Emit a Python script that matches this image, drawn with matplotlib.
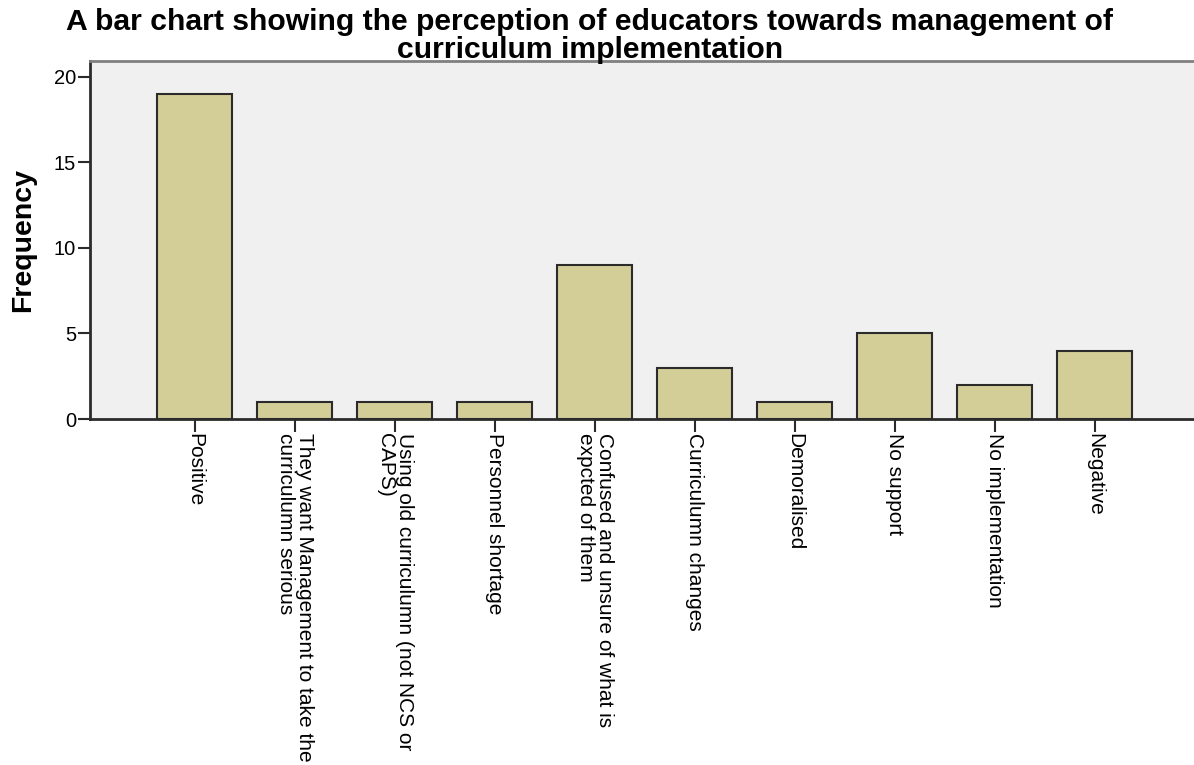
import matplotlib.pyplot as plt

categories = [
    "Positive",
    "They want Management to take the\ncurriculumn serious",
    "Using old curriculumn (not NCS or\nCAPS)",
    "Personnel shortage",
    "Confused and unsure of what is\nexpcted of them",
    "Curriculumn changes",
    "Demoralised",
    "No support",
    "No implementation",
    "Negative",
]
frequency = [19, 1, 1, 1, 9, 3, 1, 5, 2, 4]
y_ticks = [0, 5, 10, 15, 20]

plt.rcParams['font.family'] = ['Liberation Sans', 'DejaVu Sans']

fig = plt.figure(figsize=(11.94, 7.65), dpi=100)
ax = fig.add_axes([90 / 1194, 1 - 419 / 765, 1 - 90 / 1194, (419 - 61) / 765])
ax.set_facecolor("#f0f0f0")

x = list(range(len(categories)))
ax.bar(x, frequency, width=0.75, color="#d3ce97", edgecolor="#2b2b2b", linewidth=1.5, zorder=2)

ax.set_xlim(-1.05, 9.99)
ax.set_ylim(0, 20.93)
ax.set_yticks(y_ticks)
ax.set_xticks(x)
ax.set_xticklabels(categories, rotation=270, ha="center", va="top",
                   multialignment="left", fontsize=15, linespacing=1.0)
ax.tick_params(axis="both", direction="out", length=9, width=1.5, color="#2b2b2b",
               labelsize=15, pad=1)
ax.tick_params(axis="y", labelsize=14.5)

for side in ["left", "bottom"]:
    ax.spines[side].set_color("#2b2b2b")
    ax.spines[side].set_linewidth(2)
ax.spines["top"].set_color("#808080")
ax.spines["top"].set_linewidth(2)
ax.spines["right"].set_visible(False)

ax.set_ylabel("Frequency", fontsize=20.5, fontweight="bold", va="center")
ax.yaxis.set_label_coords(-67 / 1104, 0.5)

fig.text(590 / 1194, 1 - 8 / 765,
         "A bar chart showing the perception of educators towards management of\ncurriculum implementation",
         ha="center", va="top", fontsize=21.7, fontweight="bold", linespacing=1.02)

fig.savefig("out.png", dpi=100)
